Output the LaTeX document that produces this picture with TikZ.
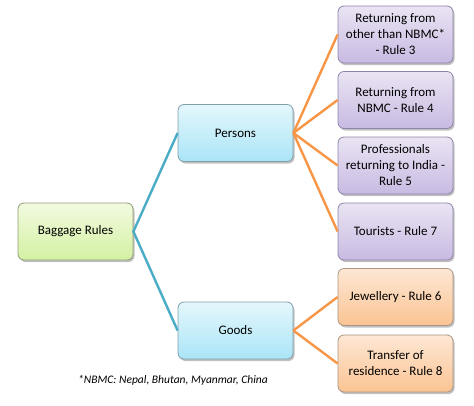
\documentclass[tikz,border=0pt]{standalone}
\usepackage{fontspec}
\setmainfont{Carlito}
\usetikzlibrary{shadows}
\definecolor{lineblue}{HTML}{4BACC6}
\definecolor{lineorange}{HTML}{F79646}
\definecolor{greenedge}{RGB}{142,156,117}
\definecolor{greentop}{RGB}{242,250,224}
\definecolor{greenbot}{RGB}{212,241,163}
\definecolor{blueedge}{RGB}{127,159,170}
\definecolor{bluetop}{RGB}{228,247,252}
\definecolor{bluebot}{RGB}{170,229,247}
\definecolor{purpleedge}{RGB}{142,131,168}
\definecolor{purpletop}{RGB}{234,228,243}
\definecolor{purplebot}{RGB}{200,186,226}
\definecolor{orangeedge}{RGB}{168,148,130}
\definecolor{orangetop}{RGB}{253,231,212}
\definecolor{orangebot}{RGB}{251,196,147}
\tikzset{
  card/.style={rounded corners=6pt, draw=#1, line width=0.8pt, minimum width=115pt,
    minimum height=57pt, align=center, font=\fontsize{13}{16}\selectfont,
    drop shadow={shadow xshift=1.5pt, shadow yshift=-2pt, opacity=0.4, fill=black!60}},
  greencard/.style={card=greenedge, top color=greentop, bottom color=greenbot},
  bluecard/.style={card=blueedge, top color=bluetop, bottom color=bluebot},
  purplecard/.style={card=purpleedge, top color=purpletop, bottom color=purplebot},
  orangecard/.style={card=orangeedge, top color=orangetop, bottom color=orangebot},
  blueline/.style={draw=lineblue, line width=2.4pt},
  orangeline/.style={draw=lineorange, line width=2.4pt},
}
\begin{document}
\begin{tikzpicture}[x=1pt,y=1pt]
 \useasboundingbox[fill=white] (0,0) rectangle (474,-405);
 % level 0
 \node[greencard] (root) at (75.5,-231.5) {Baggage Rules};
 % level 1
 \node[bluecard] (persons) at (235.5,-133) {Persons};
 \node[bluecard] (goods) at (235.5,-330.5) {Goods};
 % level 2
 \node[purplecard] (r3) at (395.5,-34.5) {Returning from\\other than NBMC*\\- Rule 3};
 \node[purplecard] (r4) at (395.5,-100) {Returning from\\NBMC - Rule 4};
 \node[purplecard] (r5) at (395.5,-165.5) {Professionals\\returning to India -\\Rule 5};
 \node[purplecard] (r7) at (395.5,-231.5) {Tourists - Rule 7};
 \node[orangecard] (r6) at (395.5,-297) {Jewellery - Rule 6};
 \node[orangecard] (r8) at (395.5,-363.5) {Transfer of\\residence - Rule 8};
 %
 \draw[blueline] (persons.west) -- (root.east) -- (goods.west);
 \foreach \n in {r3,r4,r5,r7} \draw[orangeline] (persons.east) -- (\n.west);
 \foreach \n in {r6,r8} \draw[orangeline] (goods.east) -- (\n.west);
 %
 \node[font=\fontsize{11.5}{13}\selectfont\itshape] (note) at (173,-380) {*NBMC: Nepal, Bhutan, Myanmar, China};
\end{tikzpicture}
\end{document}
